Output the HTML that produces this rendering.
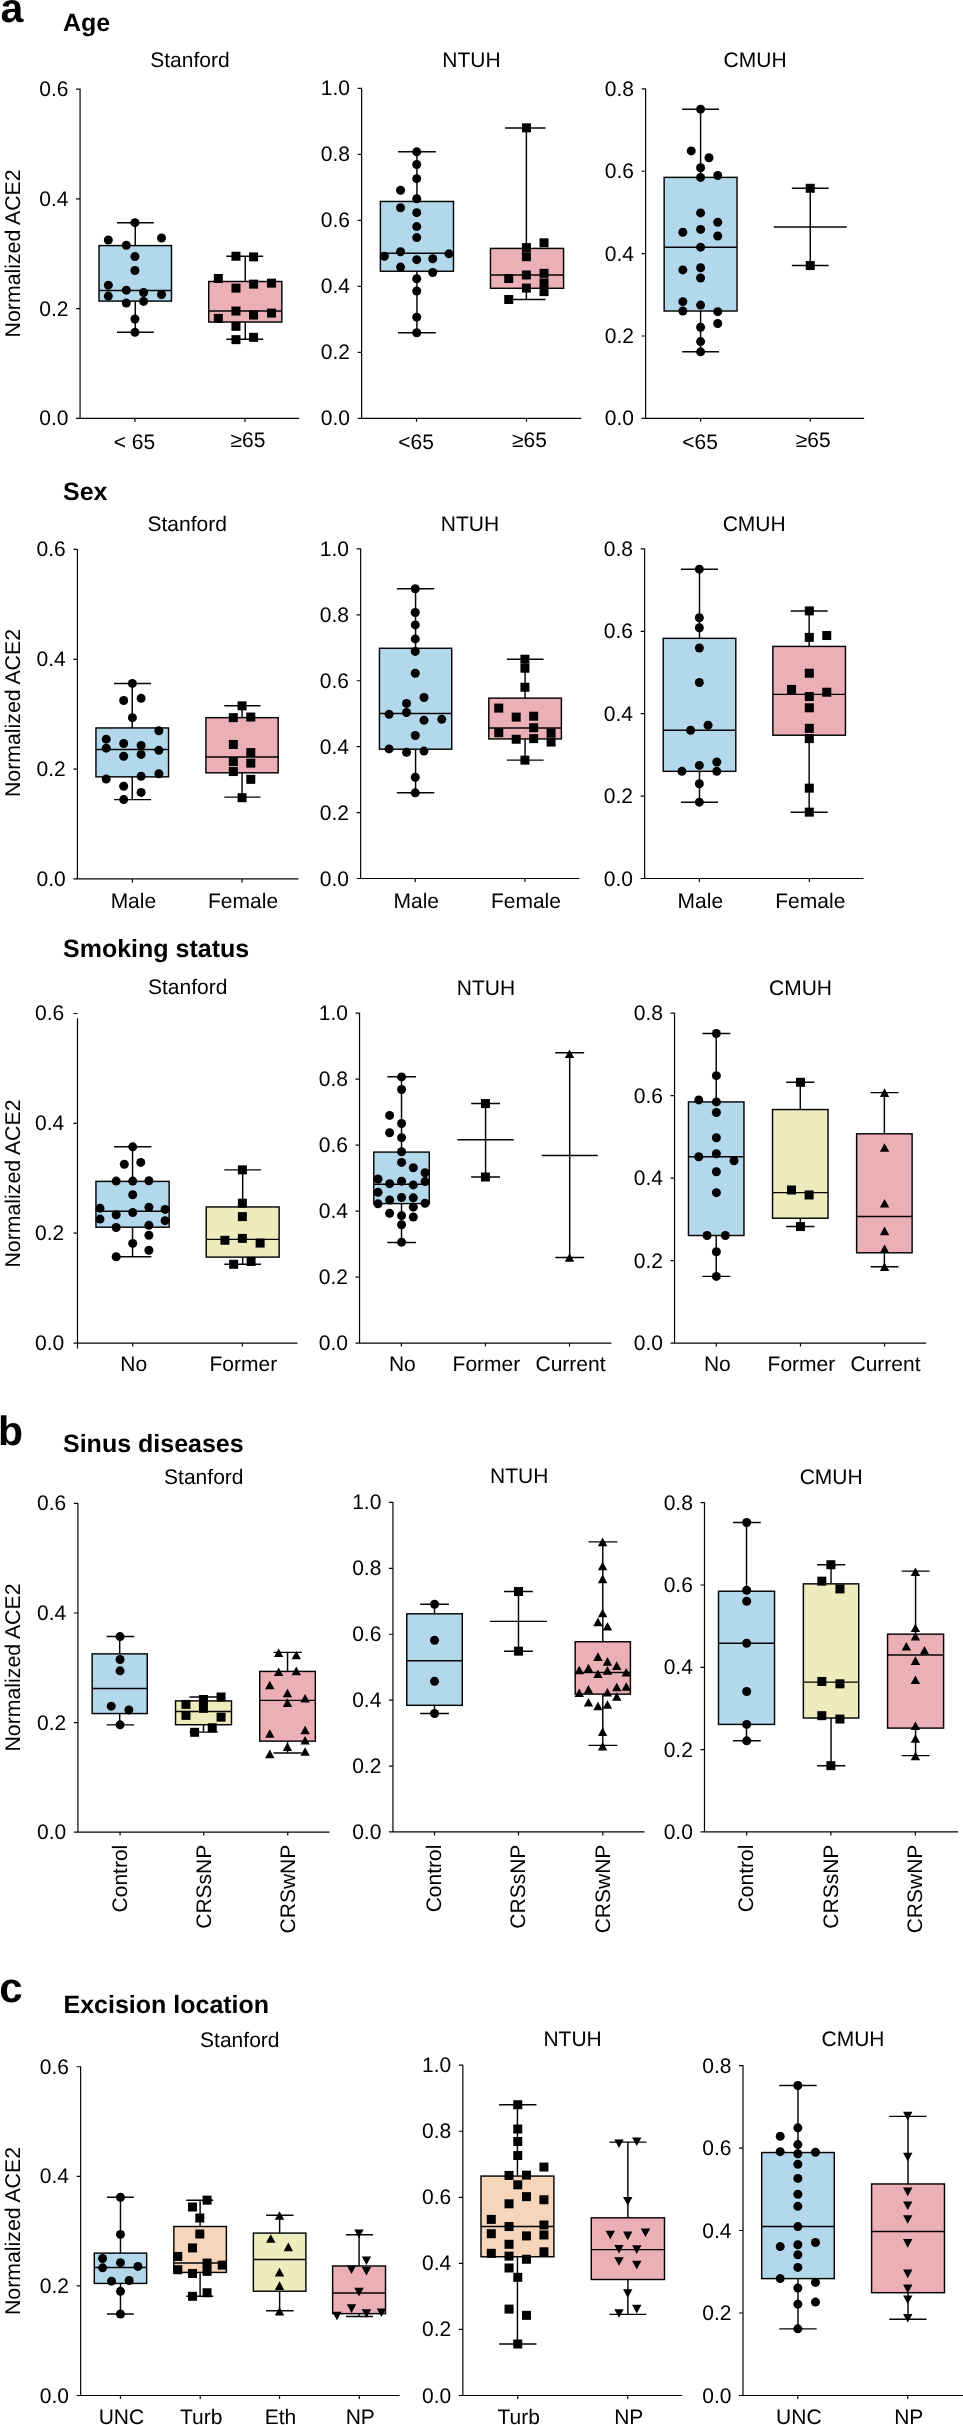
<!DOCTYPE html><html><head><meta charset="utf-8"><style>html,body{margin:0;padding:0;background:#fff}svg{display:block;will-change:transform;text-rendering:geometricPrecision}</style></head><body><svg width="963" height="2425" viewBox="0 0 963 2425" font-family="Liberation Sans, sans-serif">
<rect width="963" height="2425" fill="#fff"/>
<g>
<rect x="99.04" y="245.6" width="72.45" height="55.5" fill="#b4d8eb" stroke="#050505" stroke-width="1.45"/>
<path d="M135.26 222.67V245.6M135.26 301.1V332.34M116.98 222.67H153.87M116.98 332.34H153.87M99.04 290.46H171.49" stroke="#050505" stroke-width="1.45" fill="none"/>
<rect x="208.71" y="281.49" width="73.11" height="40.55" fill="#ebb0b6" stroke="#050505" stroke-width="1.45"/>
<path d="M245.26 256.23V281.49M245.26 322.03V339.32M226.32 256.23H263.21M226.32 339.32H263.21M208.71 311.07H281.82" stroke="#050505" stroke-width="1.45" fill="none"/>
</g>
<g fill="#000">
<circle cx="134.93" cy="222.67" r="4.5"/>
<circle cx="108.34" cy="239.95" r="4.5"/>
<circle cx="126.29" cy="245.26" r="4.5"/>
<circle cx="161.52" cy="237.95" r="4.5"/>
<circle cx="134.93" cy="256.56" r="4.5"/>
<circle cx="134.93" cy="270.52" r="4.5"/>
<circle cx="108.34" cy="285.14" r="4.5"/>
<circle cx="126.29" cy="290.13" r="4.5"/>
<circle cx="143.57" cy="292.46" r="4.5"/>
<circle cx="108.34" cy="296.11" r="4.5"/>
<circle cx="161.52" cy="294.45" r="4.5"/>
<circle cx="126.29" cy="303.09" r="4.5"/>
<circle cx="143.57" cy="301.43" r="4.5"/>
<circle cx="134.93" cy="319.04" r="4.5"/>
<circle cx="134.93" cy="332.34" r="4.5"/>
<rect x="231.46" y="251.73" width="9.0" height="9.0"/>
<rect x="249.07" y="252.4" width="9.0" height="9.0"/>
<rect x="213.84" y="274" width="9.0" height="9.0"/>
<rect x="231.46" y="283.64" width="9.0" height="9.0"/>
<rect x="249.07" y="279.65" width="9.0" height="9.0"/>
<rect x="267.02" y="278.65" width="9.0" height="9.0"/>
<rect x="231.46" y="306.57" width="9.0" height="9.0"/>
<rect x="249.07" y="310.55" width="9.0" height="9.0"/>
<rect x="267.02" y="308.56" width="9.0" height="9.0"/>
<rect x="213.84" y="313.88" width="9.0" height="9.0"/>
<rect x="231.46" y="321.85" width="9.0" height="9.0"/>
<rect x="231.46" y="335.15" width="9.0" height="9.0"/>
<rect x="249.07" y="332.82" width="9.0" height="9.0"/>
</g>
<path d="M80.07 88.57V418.4M79.47 418.4H299.1M76.07 418.4H80.07M76.07 308.62H80.07M76.07 198.84H80.07M76.07 89.07H80.07M134.93 418.4V421.9M244.93 418.4V421.9" stroke="#050505" stroke-width="1.2" fill="none"/>
<text x="68.47" y="425.4" font-size="21" text-anchor="end" >0.0</text>
<text x="68.47" y="315.62" font-size="21" text-anchor="end" >0.2</text>
<text x="68.47" y="205.84" font-size="21" text-anchor="end" >0.4</text>
<text x="68.47" y="96.07" font-size="21" text-anchor="end" >0.6</text>
<g>
<rect x="380.38" y="201.47" width="73.1" height="69.78" fill="#b4d8eb" stroke="#050505" stroke-width="1.45"/>
<path d="M416.94 151.84V201.47M416.94 271.26V332.73M398.04 151.84H435.84M398.04 332.73H435.84M380.38 253.19H453.49" stroke="#050505" stroke-width="1.45" fill="none"/>
<rect x="490.46" y="248.41" width="73.1" height="39.88" fill="#ebb0b6" stroke="#050505" stroke-width="1.45"/>
<path d="M526.39 127.9V248.41M526.39 288.29V299.5M504.99 127.9H545.49M504.99 299.5H545.49M490.46 274.99H563.56" stroke="#050505" stroke-width="1.45" fill="none"/>
</g>
<g fill="#000">
<rect x="521.98" y="123.35" width="9.0" height="9.0"/>
<circle cx="416.73" cy="151.84" r="4.5"/>
<circle cx="416.73" cy="164.51" r="4.5"/>
<circle cx="416.73" cy="178.63" r="4.5"/>
<circle cx="400.53" cy="190.26" r="4.5"/>
<circle cx="416.73" cy="198.77" r="4.5"/>
<circle cx="400.53" cy="207.71" r="4.5"/>
<circle cx="416.73" cy="212.69" r="4.5"/>
<circle cx="416.73" cy="226.6" r="4.5"/>
<circle cx="416.73" cy="237.61" r="4.5"/>
<circle cx="400.53" cy="251.73" r="4.5"/>
<circle cx="384.33" cy="256.3" r="4.5"/>
<circle cx="416.73" cy="259.63" r="4.5"/>
<circle cx="432.72" cy="258.8" r="4.5"/>
<circle cx="448.92" cy="253.81" r="4.5"/>
<circle cx="400.53" cy="267.1" r="4.5"/>
<circle cx="432.72" cy="272.5" r="4.5"/>
<circle cx="416.73" cy="278.73" r="4.5"/>
<circle cx="416.73" cy="290.99" r="4.5"/>
<circle cx="416.73" cy="317.15" r="4.5"/>
<circle cx="416.73" cy="332.73" r="4.5"/>
<rect x="521.89" y="243.08" width="9.0" height="9.0"/>
<rect x="521.89" y="252.22" width="9.0" height="9.0"/>
<rect x="539.54" y="238.3" width="9.0" height="9.0"/>
<rect x="504.23" y="274.03" width="9.0" height="9.0"/>
<rect x="521.89" y="270.49" width="9.0" height="9.0"/>
<rect x="539.54" y="268.83" width="9.0" height="9.0"/>
<rect x="539.54" y="278.39" width="9.0" height="9.0"/>
<rect x="539.54" y="287.11" width="9.0" height="9.0"/>
<rect x="521.89" y="283.58" width="9.0" height="9.0"/>
<rect x="504.23" y="295" width="9.0" height="9.0"/>
</g>
<path d="M361.64 87.79V418.36M361.04 418.36H581.31M357.64 418.36H361.64M357.64 352.35H361.64M357.64 286.33H361.64M357.64 220.32H361.64M357.64 154.3H361.64M357.64 88.29H361.64M416.51 418.36V421.86M526.48 418.36V421.86" stroke="#050505" stroke-width="1.2" fill="none"/>
<text x="350.04" y="425.36" font-size="21" text-anchor="end" >0.0</text>
<text x="350.04" y="359.35" font-size="21" text-anchor="end" >0.2</text>
<text x="350.04" y="293.33" font-size="21" text-anchor="end" >0.4</text>
<text x="350.04" y="227.32" font-size="21" text-anchor="end" >0.6</text>
<text x="350.04" y="161.3" font-size="21" text-anchor="end" >0.8</text>
<text x="350.04" y="95.29" font-size="21" text-anchor="end" >1.0</text>
<g>
<rect x="664.14" y="177.38" width="72.9" height="133.64" fill="#b4d8eb" stroke="#050505" stroke-width="1.45"/>
<path d="M700.59 109.16V177.38M700.59 311.03V351.84M682.21 109.16H718.97M682.21 351.84H718.97M664.14 247.17H737.04" stroke="#050505" stroke-width="1.45" fill="none"/>
<path d="M810.25 188.29V265.55M791.87 188.29H828.63M791.87 265.55H828.63M773.8 226.92H846.7" stroke="#050505" stroke-width="1.45" fill="none"/>
</g>
<g fill="#000">
<circle cx="700.59" cy="109.16" r="4.5"/>
<circle cx="691.25" cy="150.9" r="4.5"/>
<circle cx="709" cy="157.76" r="4.5"/>
<circle cx="700.59" cy="167.73" r="4.5"/>
<circle cx="700.59" cy="177.38" r="4.5"/>
<circle cx="717.73" cy="175.51" r="4.5"/>
<circle cx="700.59" cy="212.9" r="4.5"/>
<circle cx="717.73" cy="222.24" r="4.5"/>
<circle cx="682.83" cy="232.21" r="4.5"/>
<circle cx="700.59" cy="229.41" r="4.5"/>
<circle cx="717.73" cy="235.95" r="4.5"/>
<circle cx="700.59" cy="247.17" r="4.5"/>
<circle cx="682.83" cy="269.91" r="4.5"/>
<circle cx="700.59" cy="267.73" r="4.5"/>
<circle cx="700.59" cy="278.01" r="4.5"/>
<circle cx="682.83" cy="301.68" r="4.5"/>
<circle cx="682.83" cy="311.03" r="4.5"/>
<circle cx="700.59" cy="305.11" r="4.5"/>
<circle cx="717.73" cy="311.65" r="4.5"/>
<circle cx="717.73" cy="323.49" r="4.5"/>
<circle cx="700.59" cy="327.23" r="4.5"/>
<circle cx="700.59" cy="341.56" r="4.5"/>
<circle cx="700.59" cy="351.84" r="4.5"/>
<rect x="805.75" y="183.79" width="9.0" height="9.0"/>
<rect x="805.75" y="261.05" width="9.0" height="9.0"/>
</g>
<path d="M645.64 88.41V418.36M645.04 418.36H864.14M641.64 418.36H645.64M641.64 336H645.64M641.64 253.63H645.64M641.64 171.27H645.64M641.64 88.91H645.64M700.59 418.36V421.86M810.25 418.36V421.86" stroke="#050505" stroke-width="1.2" fill="none"/>
<text x="634.04" y="425.36" font-size="21" text-anchor="end" >0.0</text>
<text x="634.04" y="343" font-size="21" text-anchor="end" >0.2</text>
<text x="634.04" y="260.63" font-size="21" text-anchor="end" >0.4</text>
<text x="634.04" y="178.27" font-size="21" text-anchor="end" >0.6</text>
<text x="634.04" y="95.91" font-size="21" text-anchor="end" >0.8</text>
<g>
<rect x="95.95" y="727.94" width="72.59" height="48.91" fill="#b4d8eb" stroke="#050505" stroke-width="1.45"/>
<path d="M132.24 683.4V727.94M132.24 776.85V799.6M114.02 683.4H151.09M114.02 799.6H151.09M95.95 749.44H168.54" stroke="#050505" stroke-width="1.45" fill="none"/>
<rect x="205.92" y="717.66" width="72.27" height="55.14" fill="#ebb0b6" stroke="#050505" stroke-width="1.45"/>
<path d="M242.06 705.83V717.66M242.06 772.8V797.1M224.3 705.83H260.44M224.3 797.1H260.44M205.92 756.92H278.19" stroke="#050505" stroke-width="1.45" fill="none"/>
</g>
<g fill="#000">
<circle cx="132.4" cy="683.4" r="4.5"/>
<circle cx="123.68" cy="700.53" r="4.5"/>
<circle cx="141.12" cy="698.35" r="4.5"/>
<circle cx="132.4" cy="717.66" r="4.5"/>
<circle cx="106.23" cy="739.16" r="4.5"/>
<circle cx="123.68" cy="743.52" r="4.5"/>
<circle cx="141.12" cy="745.39" r="4.5"/>
<circle cx="158.88" cy="730.75" r="4.5"/>
<circle cx="106.23" cy="748.19" r="4.5"/>
<circle cx="123.68" cy="756.29" r="4.5"/>
<circle cx="141.12" cy="754.42" r="4.5"/>
<circle cx="158.88" cy="750.37" r="4.5"/>
<circle cx="106.23" cy="779.03" r="4.5"/>
<circle cx="141.12" cy="776.23" r="4.5"/>
<circle cx="158.88" cy="773.74" r="4.5"/>
<circle cx="123.68" cy="786.2" r="4.5"/>
<circle cx="141.12" cy="792.43" r="4.5"/>
<circle cx="123.68" cy="799.6" r="4.5"/>
<rect x="237.56" y="701.33" width="9.0" height="9.0"/>
<rect x="228.83" y="713.16" width="9.0" height="9.0"/>
<rect x="246.28" y="712.54" width="9.0" height="9.0"/>
<rect x="228.83" y="739.95" width="9.0" height="9.0"/>
<rect x="246.28" y="748.05" width="9.0" height="9.0"/>
<rect x="228.83" y="757.09" width="9.0" height="9.0"/>
<rect x="246.28" y="758.65" width="9.0" height="9.0"/>
<rect x="228.83" y="767.06" width="9.0" height="9.0"/>
<rect x="246.28" y="774.85" width="9.0" height="9.0"/>
<rect x="237.56" y="793.23" width="9.0" height="9.0"/>
</g>
<path d="M77.42 548.94V878.97M76.82 878.97H298.44M73.42 878.97H77.42M73.42 769.13H77.42M73.42 659.28H77.42M73.42 549.44H77.42M132.4 878.97V882.47M242.06 878.97V882.47" stroke="#050505" stroke-width="1.2" fill="none"/>
<text x="65.82" y="885.97" font-size="21" text-anchor="end" >0.0</text>
<text x="65.82" y="776.13" font-size="21" text-anchor="end" >0.2</text>
<text x="65.82" y="666.28" font-size="21" text-anchor="end" >0.4</text>
<text x="65.82" y="556.44" font-size="21" text-anchor="end" >0.6</text>
<g>
<rect x="379.44" y="648.29" width="72.27" height="100.93" fill="#b4d8eb" stroke="#050505" stroke-width="1.45"/>
<path d="M415.58 588.79V648.29M415.58 749.22V792.83M396.88 588.79H434.27M396.88 792.83H434.27M379.44 713.4H451.71" stroke="#050505" stroke-width="1.45" fill="none"/>
<rect x="488.79" y="698.13" width="72.59" height="40.81" fill="#ebb0b6" stroke="#050505" stroke-width="1.45"/>
<path d="M525.08 659.19V698.13M525.08 738.94V760.12M506.85 659.19H543.61M506.85 760.12H543.61M488.79 728.04H561.37" stroke="#050505" stroke-width="1.45" fill="none"/>
</g>
<g fill="#000">
<circle cx="415.26" cy="588.79" r="4.5"/>
<circle cx="415.26" cy="612.46" r="4.5"/>
<circle cx="415.26" cy="624.92" r="4.5"/>
<circle cx="415.26" cy="638.94" r="4.5"/>
<circle cx="415.26" cy="651.4" r="4.5"/>
<circle cx="415.26" cy="673.21" r="4.5"/>
<circle cx="406.54" cy="703.43" r="4.5"/>
<circle cx="423.99" cy="697.51" r="4.5"/>
<circle cx="389.1" cy="714.33" r="4.5"/>
<circle cx="406.54" cy="712.46" r="4.5"/>
<circle cx="423.99" cy="720.25" r="4.5"/>
<circle cx="441.74" cy="719.31" r="4.5"/>
<circle cx="415.26" cy="735.51" r="4.5"/>
<circle cx="389.1" cy="748.91" r="4.5"/>
<circle cx="406.54" cy="752.34" r="4.5"/>
<circle cx="423.99" cy="751.09" r="4.5"/>
<circle cx="415.26" cy="777.26" r="4.5"/>
<circle cx="415.26" cy="792.83" r="4.5"/>
<rect x="520.42" y="654.69" width="9.0" height="9.0"/>
<rect x="520.42" y="663.72" width="9.0" height="9.0"/>
<rect x="520.42" y="682.73" width="9.0" height="9.0"/>
<rect x="494.25" y="703.6" width="9.0" height="9.0"/>
<rect x="511.7" y="712.63" width="9.0" height="9.0"/>
<rect x="529.14" y="711.7" width="9.0" height="9.0"/>
<rect x="494.25" y="728.21" width="9.0" height="9.0"/>
<rect x="529.14" y="723.23" width="9.0" height="9.0"/>
<rect x="511.7" y="734.75" width="9.0" height="9.0"/>
<rect x="529.14" y="734.13" width="9.0" height="9.0"/>
<rect x="546.59" y="728.52" width="9.0" height="9.0"/>
<rect x="546.59" y="737.56" width="9.0" height="9.0"/>
<rect x="520.42" y="755.62" width="9.0" height="9.0"/>
</g>
<path d="M360.64 548.41V878.5M360.04 878.5H579.44M356.64 878.5H360.64M356.64 812.58H360.64M356.64 746.66H360.64M356.64 680.75H360.64M356.64 614.83H360.64M356.64 548.91H360.64M415.26 878.5V882M524.92 878.5V882" stroke="#050505" stroke-width="1.2" fill="none"/>
<text x="349.04" y="885.5" font-size="21" text-anchor="end" >0.0</text>
<text x="349.04" y="819.58" font-size="21" text-anchor="end" >0.2</text>
<text x="349.04" y="753.66" font-size="21" text-anchor="end" >0.4</text>
<text x="349.04" y="687.75" font-size="21" text-anchor="end" >0.6</text>
<text x="349.04" y="621.83" font-size="21" text-anchor="end" >0.8</text>
<text x="349.04" y="555.91" font-size="21" text-anchor="end" >1.0</text>
<g>
<rect x="663.21" y="638.32" width="72.59" height="133.02" fill="#b4d8eb" stroke="#050505" stroke-width="1.45"/>
<path d="M699.5 569.16V638.32M699.5 771.34V802.18M680.97 569.16H718.04M680.97 802.18H718.04M663.21 730.22H735.79" stroke="#050505" stroke-width="1.45" fill="none"/>
<rect x="772.87" y="646.42" width="72.59" height="88.79" fill="#ebb0b6" stroke="#050505" stroke-width="1.45"/>
<path d="M809.16 610.9V646.42M809.16 735.2V812.15M790.62 610.9H827.69M790.62 812.15H827.69M772.87 694.39H845.45" stroke="#050505" stroke-width="1.45" fill="none"/>
</g>
<g fill="#000">
<circle cx="699.35" cy="569.16" r="4.5"/>
<circle cx="699.35" cy="617.76" r="4.5"/>
<circle cx="699.35" cy="627.73" r="4.5"/>
<circle cx="699.35" cy="647.98" r="4.5"/>
<circle cx="699.35" cy="682.55" r="4.5"/>
<circle cx="690.62" cy="730.22" r="4.5"/>
<circle cx="708.07" cy="725.23" r="4.5"/>
<circle cx="681.9" cy="771.34" r="4.5"/>
<circle cx="699.35" cy="765.42" r="4.5"/>
<circle cx="716.79" cy="761.99" r="4.5"/>
<circle cx="716.79" cy="771.34" r="4.5"/>
<circle cx="699.35" cy="783.8" r="4.5"/>
<circle cx="699.35" cy="802.18" r="4.5"/>
<rect x="804.81" y="606.4" width="9.0" height="9.0"/>
<rect x="804.81" y="632.88" width="9.0" height="9.0"/>
<rect x="822.26" y="631.01" width="9.0" height="9.0"/>
<rect x="804.81" y="668.71" width="9.0" height="9.0"/>
<rect x="787.06" y="684.91" width="9.0" height="9.0"/>
<rect x="822.26" y="687.71" width="9.0" height="9.0"/>
<rect x="804.81" y="692.07" width="9.0" height="9.0"/>
<rect x="804.81" y="703.29" width="9.0" height="9.0"/>
<rect x="804.81" y="723.85" width="9.0" height="9.0"/>
<rect x="804.81" y="734.13" width="9.0" height="9.0"/>
<rect x="804.81" y="783.66" width="9.0" height="9.0"/>
<rect x="804.81" y="807.65" width="9.0" height="9.0"/>
</g>
<path d="M644.64 548.41V878.5M644.04 878.5H863.52M640.64 878.5H644.64M640.64 796.1H644.64M640.64 713.7H644.64M640.64 631.31H644.64M640.64 548.91H644.64M699.35 878.5V882M809.31 878.5V882" stroke="#050505" stroke-width="1.2" fill="none"/>
<text x="633.04" y="885.5" font-size="21" text-anchor="end" >0.0</text>
<text x="633.04" y="803.1" font-size="21" text-anchor="end" >0.2</text>
<text x="633.04" y="720.7" font-size="21" text-anchor="end" >0.4</text>
<text x="633.04" y="638.31" font-size="21" text-anchor="end" >0.6</text>
<text x="633.04" y="555.91" font-size="21" text-anchor="end" >0.8</text>
<g>
<rect x="95.95" y="1181.4" width="73.21" height="45.79" fill="#b4d8eb" stroke="#050505" stroke-width="1.45"/>
<path d="M132.55 1146.82V1181.4M132.55 1227.2V1256.79M114.02 1146.82H151.4M114.02 1256.79H151.4M95.95 1211.31H169.16" stroke="#050505" stroke-width="1.45" fill="none"/>
<rect x="206.23" y="1206.95" width="72.9" height="50.16" fill="#eeebbd" stroke="#050505" stroke-width="1.45"/>
<path d="M242.68 1169.88V1206.95M242.68 1257.1V1264.27M224.3 1169.88H261.06M224.3 1264.27H261.06M206.23 1239.35H279.13" stroke="#050505" stroke-width="1.45" fill="none"/>
</g>
<g fill="#000">
<circle cx="132.71" cy="1146.82" r="4.5"/>
<circle cx="124.3" cy="1164.27" r="4.5"/>
<circle cx="140.81" cy="1162.4" r="4.5"/>
<circle cx="116.2" cy="1181.09" r="4.5"/>
<circle cx="132.71" cy="1181.09" r="4.5"/>
<circle cx="148.91" cy="1180.78" r="4.5"/>
<circle cx="132.71" cy="1194.8" r="4.5"/>
<circle cx="100" cy="1208.19" r="4.5"/>
<circle cx="148.91" cy="1207.26" r="4.5"/>
<circle cx="165.11" cy="1209.44" r="4.5"/>
<circle cx="116.2" cy="1214.74" r="4.5"/>
<circle cx="132.71" cy="1212.55" r="4.5"/>
<circle cx="100" cy="1219.1" r="4.5"/>
<circle cx="148.91" cy="1225.33" r="4.5"/>
<circle cx="165.11" cy="1220.65" r="4.5"/>
<circle cx="116.2" cy="1227.51" r="4.5"/>
<circle cx="148.91" cy="1235.3" r="4.5"/>
<circle cx="132.71" cy="1243.4" r="4.5"/>
<circle cx="148.91" cy="1250.25" r="4.5"/>
<circle cx="116.2" cy="1256.79" r="4.5"/>
<rect x="237.87" y="1165.38" width="9.0" height="9.0"/>
<rect x="237.87" y="1198.71" width="9.0" height="9.0"/>
<rect x="237.87" y="1212.1" width="9.0" height="9.0"/>
<rect x="220.42" y="1235.78" width="9.0" height="9.0"/>
<rect x="237.87" y="1233.91" width="9.0" height="9.0"/>
<rect x="255.62" y="1238.58" width="9.0" height="9.0"/>
<rect x="229.14" y="1259.77" width="9.0" height="9.0"/>
<rect x="246.59" y="1256.96" width="9.0" height="9.0"/>
</g>
<path d="M77.48 1018.29V1348.53M76.88 1343.03H297.51M73.48 1343.03H77.48M73.48 1233.18H77.48M73.48 1123.34H77.48M73.48 1013.49H77.48M132.71 1343.03V1346.53M242.37 1343.03V1346.53" stroke="#050505" stroke-width="1.2" fill="none"/>
<text x="64.28" y="1350.03" font-size="21" text-anchor="end" >0.0</text>
<text x="64.28" y="1240.18" font-size="21" text-anchor="end" >0.2</text>
<text x="64.28" y="1130.34" font-size="21" text-anchor="end" >0.4</text>
<text x="64.28" y="1020.49" font-size="21" text-anchor="end" >0.6</text>
<g>
<rect x="373.78" y="1152.09" width="55.5" height="51.51" fill="#b4d8eb" stroke="#050505" stroke-width="1.45"/>
<path d="M401.53 1076.65V1152.09M401.53 1203.6V1242.49M387.4 1076.65H415.99M387.4 1242.49H415.99M373.78 1184.33H429.28" stroke="#050505" stroke-width="1.45" fill="none"/>
<path d="M485.61 1103.57V1177.02M471.15 1103.57H500.07M471.15 1177.02H500.07M457.53 1139.79H513.69" stroke="#050505" stroke-width="1.45" fill="none"/>
<path d="M569.69 1052.72V1257.44M555.23 1052.72H584.15M555.23 1257.44H584.15M541.61 1155.41H597.77" stroke="#050505" stroke-width="1.45" fill="none"/>
</g>
<g fill="#000">
<rect x="480.94" y="1099.07" width="9.0" height="9.0"/>
<rect x="480.94" y="1172.52" width="9.0" height="9.0"/>
<path d="M569.52 1049.42L574.22 1058.02L564.82 1058.02Z"/>
<path d="M569.52 1253.14L574.22 1261.74L564.82 1261.74Z"/>
<circle cx="401.57" cy="1076.9" r="4.5"/>
<circle cx="401.57" cy="1089.51" r="4.5"/>
<circle cx="389.62" cy="1115.4" r="4.5"/>
<circle cx="401.57" cy="1123.48" r="4.5"/>
<circle cx="389.62" cy="1132.79" r="4.5"/>
<circle cx="401.57" cy="1137.66" r="4.5"/>
<circle cx="401.57" cy="1151.76" r="4.5"/>
<circle cx="401.57" cy="1162.39" r="4.5"/>
<circle cx="413.28" cy="1167.75" r="4.5"/>
<circle cx="425.07" cy="1172.78" r="4.5"/>
<circle cx="378" cy="1178.96" r="4.5"/>
<circle cx="389.62" cy="1183.66" r="4.5"/>
<circle cx="401.57" cy="1181.19" r="4.5"/>
<circle cx="413.28" cy="1184.9" r="4.5"/>
<circle cx="425.07" cy="1181.6" r="4.5"/>
<circle cx="378" cy="1192.32" r="4.5"/>
<circle cx="389.62" cy="1199.98" r="4.5"/>
<circle cx="401.57" cy="1197.51" r="4.5"/>
<circle cx="413.28" cy="1197.84" r="4.5"/>
<circle cx="378" cy="1203.86" r="4.5"/>
<circle cx="425.07" cy="1203.2" r="4.5"/>
<circle cx="413.28" cy="1207.16" r="4.5"/>
<circle cx="389.62" cy="1213.34" r="4.5"/>
<circle cx="401.57" cy="1215.65" r="4.5"/>
<circle cx="413.28" cy="1217.05" r="4.5"/>
<circle cx="401.57" cy="1224.72" r="4.5"/>
<circle cx="401.57" cy="1242.19" r="4.5"/>
</g>
<path d="M359.55 1012.67V1343.03M358.95 1343.03H611.4M355.55 1343.03H359.55M355.55 1277.06H359.55M355.55 1211.09H359.55M355.55 1145.12H359.55M355.55 1079.15H359.55M355.55 1013.17H359.55M401.36 1343.03V1346.53M485.44 1343.03V1346.53M569.52 1343.03V1346.53" stroke="#050505" stroke-width="1.2" fill="none"/>
<text x="347.95" y="1350.03" font-size="21" text-anchor="end" >0.0</text>
<text x="347.95" y="1284.06" font-size="21" text-anchor="end" >0.2</text>
<text x="347.95" y="1218.09" font-size="21" text-anchor="end" >0.4</text>
<text x="347.95" y="1152.12" font-size="21" text-anchor="end" >0.6</text>
<text x="347.95" y="1086.15" font-size="21" text-anchor="end" >0.8</text>
<text x="347.95" y="1020.17" font-size="21" text-anchor="end" >1.0</text>
<g>
<rect x="688.46" y="1101.91" width="55.5" height="133.6" fill="#b4d8eb" stroke="#050505" stroke-width="1.45"/>
<path d="M716.21 1033.45V1101.91M716.21 1235.51V1276.38M702.42 1033.45H730.34M702.42 1276.38H730.34M688.46 1156.74H743.96" stroke="#050505" stroke-width="1.45" fill="none"/>
<rect x="772.54" y="1109.55" width="55.5" height="108.67" fill="#eeebbd" stroke="#050505" stroke-width="1.45"/>
<path d="M800.29 1082.3V1109.55M800.29 1218.23V1226.53M786.17 1082.3H814.42M786.17 1226.53H814.42M772.54 1192.64H828.04" stroke="#050505" stroke-width="1.45" fill="none"/>
<rect x="856.62" y="1133.81" width="55.5" height="118.98" fill="#ebb0b6" stroke="#050505" stroke-width="1.45"/>
<path d="M884.37 1092.6V1133.81M884.37 1252.79V1266.75M870.58 1092.6H898.5M870.58 1266.75H898.5M856.62 1216.56H912.12" stroke="#050505" stroke-width="1.45" fill="none"/>
</g>
<g fill="#000">
<circle cx="716.38" cy="1033.45" r="4.5"/>
<circle cx="716.38" cy="1075.65" r="4.5"/>
<circle cx="698.76" cy="1099.91" r="4.5"/>
<circle cx="716.38" cy="1101.91" r="4.5"/>
<circle cx="716.38" cy="1112.54" r="4.5"/>
<circle cx="716.38" cy="1137.8" r="4.5"/>
<circle cx="698.76" cy="1156.74" r="4.5"/>
<circle cx="716.38" cy="1153.75" r="4.5"/>
<circle cx="733.99" cy="1160.73" r="4.5"/>
<circle cx="716.38" cy="1171.7" r="4.5"/>
<circle cx="716.38" cy="1192.64" r="4.5"/>
<circle cx="707.07" cy="1235.51" r="4.5"/>
<circle cx="725.35" cy="1235.51" r="4.5"/>
<circle cx="716.38" cy="1251.79" r="4.5"/>
<circle cx="716.38" cy="1276.38" r="4.5"/>
<rect x="795.96" y="1077.8" width="9.0" height="9.0"/>
<rect x="786.99" y="1185.48" width="9.0" height="9.0"/>
<rect x="804.6" y="1190.46" width="9.0" height="9.0"/>
<rect x="795.96" y="1222.03" width="9.0" height="9.0"/>
<path d="M884.54 1088.3L889.24 1096.9L879.84 1096.9Z"/>
<path d="M884.54 1143.14L889.24 1151.74L879.84 1151.74Z"/>
<path d="M884.54 1198.97L889.24 1207.57L879.84 1207.57Z"/>
<path d="M884.54 1226.55L889.24 1235.15L879.84 1235.15Z"/>
<path d="M884.54 1244.5L889.24 1253.1L879.84 1253.1Z"/>
<path d="M884.54 1262.45L889.24 1271.05L879.84 1271.05Z"/>
</g>
<path d="M674.55 1012.67V1343.03M673.95 1343.03H926.08M670.55 1343.03H674.55M670.55 1260.57H674.55M670.55 1178.1H674.55M670.55 1095.64H674.55M670.55 1013.17H674.55M716.38 1343.03V1346.53M800.46 1343.03V1346.53M884.54 1343.03V1346.53" stroke="#050505" stroke-width="1.2" fill="none"/>
<text x="662.95" y="1350.03" font-size="21" text-anchor="end" >0.0</text>
<text x="662.95" y="1267.57" font-size="21" text-anchor="end" >0.2</text>
<text x="662.95" y="1185.1" font-size="21" text-anchor="end" >0.4</text>
<text x="662.95" y="1102.64" font-size="21" text-anchor="end" >0.6</text>
<text x="662.95" y="1020.17" font-size="21" text-anchor="end" >0.8</text>
<g>
<rect x="92.16" y="1653.88" width="55.08" height="59.68" fill="#b4d8eb" stroke="#050505" stroke-width="1.45"/>
<path d="M119.7 1636.58V1653.88M119.7 1713.56V1724.86M106.64 1636.58H134.18M106.64 1724.86H134.18M92.16 1688.49H147.25" stroke="#050505" stroke-width="1.45" fill="none"/>
<rect x="175.53" y="1700.9" width="55.96" height="23.83" fill="#eeebbd" stroke="#050505" stroke-width="1.45"/>
<path d="M203.51 1697.02V1700.9M203.51 1724.73V1732.14M189.48 1697.02H217.72M189.48 1732.14H217.72M175.53 1711.49H231.49" stroke="#050505" stroke-width="1.45" fill="none"/>
<rect x="259.74" y="1671.42" width="55.6" height="69.73" fill="#ebb0b6" stroke="#050505" stroke-width="1.45"/>
<path d="M287.54 1652.36V1671.42M287.54 1741.15V1752.97M273.5 1652.36H301.75M273.5 1752.97H301.75M259.74 1700.37H315.34" stroke="#050505" stroke-width="1.45" fill="none"/>
</g>
<g fill="#000">
<circle cx="120.06" cy="1636.58" r="4.5"/>
<circle cx="120.06" cy="1659.53" r="4.5"/>
<circle cx="120.06" cy="1670.83" r="4.5"/>
<circle cx="111.23" cy="1706.14" r="4.5"/>
<circle cx="128.88" cy="1710.03" r="4.5"/>
<circle cx="120.06" cy="1724.86" r="4.5"/>
<rect x="181.45" y="1699.93" width="9.0" height="9.0"/>
<rect x="198.92" y="1694.99" width="9.0" height="9.0"/>
<rect x="216.58" y="1692.52" width="9.0" height="9.0"/>
<rect x="198.92" y="1703.81" width="9.0" height="9.0"/>
<rect x="181.45" y="1710.88" width="9.0" height="9.0"/>
<rect x="216.58" y="1712.64" width="9.0" height="9.0"/>
<rect x="190.1" y="1727.82" width="9.0" height="9.0"/>
<rect x="207.75" y="1723.23" width="9.0" height="9.0"/>
<path d="M278.62 1648.41L283.32 1657.01L273.92 1657.01Z"/>
<path d="M296.28 1650.7L300.98 1659.3L291.58 1659.3Z"/>
<path d="M278.62 1667.47L283.32 1676.07L273.92 1676.07Z"/>
<path d="M296.28 1666.59L300.98 1675.19L291.58 1675.19Z"/>
<path d="M269.8 1680.71L274.5 1689.31L265.1 1689.31Z"/>
<path d="M287.45 1688.66L292.15 1697.26L282.75 1697.26Z"/>
<path d="M305.1 1693.95L309.8 1702.55L300.4 1702.55Z"/>
<path d="M287.45 1698.37L292.15 1706.97L282.75 1706.97Z"/>
<path d="M269.8 1729.26L274.5 1737.86L265.1 1737.86Z"/>
<path d="M305.1 1725.73L309.8 1734.33L300.4 1734.33Z"/>
<path d="M305.1 1735.96L309.8 1744.56L300.4 1744.56Z"/>
<path d="M287.45 1742.5L292.15 1751.1L282.75 1751.1Z"/>
<path d="M269.8 1749.56L274.5 1758.16L265.1 1758.16Z"/>
<path d="M305.1 1747.26L309.8 1755.86L300.4 1755.86Z"/>
</g>
<path d="M77.89 1502.96V1832.06M77.29 1832.06H329.45M73.89 1832.06H77.89M73.89 1722.53H77.89M73.89 1612.99H77.89M73.89 1503.46H77.89M120.06 1832.06V1835.56M203.74 1832.06V1835.56M287.78 1832.06V1835.56" stroke="#050505" stroke-width="1.2" fill="none"/>
<text x="66.29" y="1839.06" font-size="21" text-anchor="end" >0.0</text>
<text x="66.29" y="1729.53" font-size="21" text-anchor="end" >0.2</text>
<text x="66.29" y="1619.99" font-size="21" text-anchor="end" >0.4</text>
<text x="66.29" y="1510.46" font-size="21" text-anchor="end" >0.6</text>
<g>
<rect x="406.76" y="1613.81" width="55.52" height="91.5" fill="#b4d8eb" stroke="#050505" stroke-width="1.45"/>
<path d="M434.52 1604.22V1613.81M434.52 1705.31V1713.54M420.13 1604.22H448.92M420.13 1713.54H448.92M406.76 1660.76H462.28" stroke="#050505" stroke-width="1.45" fill="none"/>
<path d="M518.49 1591.54V1651.17M504.09 1591.54H532.88M504.09 1651.17H532.88M490.04 1621.35H546.93" stroke="#050505" stroke-width="1.45" fill="none"/>
<rect x="575.18" y="1641.76" width="55.22" height="52.37" fill="#ebb0b6" stroke="#050505" stroke-width="1.45"/>
<path d="M602.79 1541.86V1641.76M602.79 1694.14V1745.37M588.46 1541.86H617.4M588.46 1745.37H617.4M575.18 1672.5H630.4" stroke="#050505" stroke-width="1.45" fill="none"/>
</g>
<g fill="#000">
<circle cx="434.52" cy="1604.22" r="4.5"/>
<circle cx="434.52" cy="1640.2" r="4.5"/>
<circle cx="434.52" cy="1681.32" r="4.5"/>
<circle cx="434.52" cy="1713.54" r="4.5"/>
<rect x="513.99" y="1587.04" width="9.0" height="9.0"/>
<rect x="513.99" y="1646.67" width="9.0" height="9.0"/>
<path d="M602.6 1537.56L607.3 1546.16L597.9 1546.16Z"/>
<path d="M602.6 1561.75L607.3 1570.35L597.9 1570.35Z"/>
<path d="M602.6 1574.56L607.3 1583.16L597.9 1583.16Z"/>
<path d="M602.6 1608.72L607.3 1617.32L597.9 1617.32Z"/>
<path d="M597.95 1617.54L602.65 1626.14L593.25 1626.14Z"/>
<path d="M607.44 1622L612.14 1630.6L602.74 1630.6Z"/>
<path d="M597.95 1652.36L602.65 1660.96L593.25 1660.96Z"/>
<path d="M607.44 1657.1L612.14 1665.7L602.74 1665.7Z"/>
<path d="M616.74 1661.37L621.44 1669.97L612.04 1669.97Z"/>
<path d="M579.26 1665.64L583.96 1674.24L574.56 1674.24Z"/>
<path d="M588.46 1663.75L593.16 1672.35L583.76 1672.35Z"/>
<path d="M597.95 1669.44L602.65 1678.04L593.25 1678.04Z"/>
<path d="M607.44 1666.12L612.14 1674.72L602.74 1674.72Z"/>
<path d="M626.22 1668.01L630.92 1676.61L621.52 1676.61Z"/>
<path d="M579.26 1688.41L583.96 1697.01L574.56 1697.01Z"/>
<path d="M588.46 1685.09L593.16 1693.69L583.76 1693.69Z"/>
<path d="M607.44 1687.94L612.14 1696.54L602.74 1696.54Z"/>
<path d="M616.74 1682.72L621.44 1691.32L612.04 1691.32Z"/>
<path d="M626.22 1682.25L630.92 1690.85L621.52 1690.85Z"/>
<path d="M616.74 1692.21L621.44 1700.81L612.04 1700.81Z"/>
<path d="M588.46 1697.9L593.16 1706.5L583.76 1706.5Z"/>
<path d="M597.95 1701.7L602.65 1710.3L593.25 1710.3Z"/>
<path d="M607.44 1700.27L612.14 1708.87L602.74 1708.87Z"/>
<path d="M602.6 1727.31L607.3 1735.91L597.9 1735.91Z"/>
<path d="M602.6 1742.02L607.3 1750.62L597.9 1750.62Z"/>
</g>
<path d="M392.95 1501.93V1831.93M392.35 1831.93H644.6M388.95 1831.93H392.95M388.95 1766.03H392.95M388.95 1700.13H392.95M388.95 1634.23H392.95M388.95 1568.33H392.95M388.95 1502.43H392.95M434.52 1831.93V1835.43M518.49 1831.93V1835.43M602.79 1831.93V1835.43" stroke="#050505" stroke-width="1.2" fill="none"/>
<text x="381.35" y="1838.93" font-size="21" text-anchor="end" >0.0</text>
<text x="381.35" y="1773.03" font-size="21" text-anchor="end" >0.2</text>
<text x="381.35" y="1707.13" font-size="21" text-anchor="end" >0.4</text>
<text x="381.35" y="1641.23" font-size="21" text-anchor="end" >0.6</text>
<text x="381.35" y="1575.33" font-size="21" text-anchor="end" >0.8</text>
<text x="381.35" y="1509.43" font-size="21" text-anchor="end" >1.0</text>
<g>
<rect x="718.5" y="1591.23" width="56.02" height="133.18" fill="#b4d8eb" stroke="#050505" stroke-width="1.45"/>
<path d="M746.51 1522.46V1591.23M746.51 1724.4V1740.84M732.92 1522.46H760.76M732.92 1740.84H760.76M718.5 1643.22H774.52" stroke="#050505" stroke-width="1.45" fill="none"/>
<rect x="803.37" y="1583.85" width="55.35" height="134.18" fill="#eeebbd" stroke="#050505" stroke-width="1.45"/>
<path d="M831.04 1564.73V1583.85M831.04 1718.03V1765.67M817.12 1564.73H845.3M817.12 1765.67H845.3M803.37 1682.14H858.72" stroke="#050505" stroke-width="1.45" fill="none"/>
<rect x="887.57" y="1634.17" width="56.02" height="93.93" fill="#ebb0b6" stroke="#050505" stroke-width="1.45"/>
<path d="M915.58 1571.1V1634.17M915.58 1728.09V1755.6M901.66 1571.1H929.5M901.66 1755.6H929.5M887.57 1654.96H943.59" stroke="#050505" stroke-width="1.45" fill="none"/>
</g>
<g fill="#000">
<circle cx="746.68" cy="1522.46" r="4.5"/>
<circle cx="746.68" cy="1590.22" r="4.5"/>
<circle cx="746.68" cy="1601.29" r="4.5"/>
<circle cx="746.68" cy="1643.22" r="4.5"/>
<circle cx="746.68" cy="1691.53" r="4.5"/>
<circle cx="746.68" cy="1724.4" r="4.5"/>
<circle cx="746.68" cy="1740.84" r="4.5"/>
<rect x="826.38" y="1560.23" width="9.0" height="9.0"/>
<rect x="817.32" y="1576.66" width="9.0" height="9.0"/>
<rect x="835.43" y="1584.38" width="9.0" height="9.0"/>
<rect x="817.32" y="1676.97" width="9.0" height="9.0"/>
<rect x="835.43" y="1679.31" width="9.0" height="9.0"/>
<rect x="817.32" y="1711.18" width="9.0" height="9.0"/>
<rect x="835.43" y="1714.54" width="9.0" height="9.0"/>
<rect x="826.38" y="1761.17" width="9.0" height="9.0"/>
<path d="M915.41 1567.47L920.11 1576.07L910.71 1576.07Z"/>
<path d="M915.41 1623.49L920.11 1632.09L910.71 1632.09Z"/>
<path d="M915.41 1631.88L920.11 1640.48L910.71 1640.48Z"/>
<path d="M906.35 1641.94L911.05 1650.54L901.65 1650.54Z"/>
<path d="M924.47 1645.97L929.17 1654.57L919.77 1654.57Z"/>
<path d="M915.41 1656.37L920.11 1664.97L910.71 1664.97Z"/>
<path d="M915.41 1675.49L920.11 1684.09L910.71 1684.09Z"/>
<path d="M915.41 1721.45L920.11 1730.05L910.71 1730.05Z"/>
<path d="M915.41 1734.19L920.11 1742.79L910.71 1742.79Z"/>
<path d="M915.41 1751.64L920.11 1760.24L910.71 1760.24Z"/>
</g>
<path d="M704.49 1502.17V1831.93M703.89 1831.93H958.01M700.49 1831.93H704.49M700.49 1749.61H704.49M700.49 1667.3H704.49M700.49 1584.98H704.49M700.49 1502.67H704.49M746.68 1831.93V1835.43M830.88 1831.93V1835.43M915.41 1831.93V1835.43" stroke="#050505" stroke-width="1.2" fill="none"/>
<text x="692.89" y="1838.93" font-size="21" text-anchor="end" >0.0</text>
<text x="692.89" y="1756.61" font-size="21" text-anchor="end" >0.2</text>
<text x="692.89" y="1674.3" font-size="21" text-anchor="end" >0.4</text>
<text x="692.89" y="1591.98" font-size="21" text-anchor="end" >0.6</text>
<text x="692.89" y="1509.67" font-size="21" text-anchor="end" >0.8</text>
<g>
<rect x="94.3" y="2253.1" width="52.34" height="30.32" fill="#b4d8eb" stroke="#050505" stroke-width="1.45"/>
<path d="M120.47 2197.24V2253.1M120.47 2283.43V2313.96M106.97 2197.24H133.76M106.97 2313.96H133.76M94.3 2267.44H146.64" stroke="#050505" stroke-width="1.45" fill="none"/>
<rect x="173.84" y="2226.52" width="52.54" height="45.9" fill="#f6d5bb" stroke="#050505" stroke-width="1.45"/>
<path d="M200.11 2200.15V2226.52M200.11 2272.42V2296.3M186.3 2200.15H213.3M186.3 2296.3H213.3M173.84 2263.07H226.39" stroke="#050505" stroke-width="1.45" fill="none"/>
<rect x="253.36" y="2233.08" width="52.52" height="58.13" fill="#eeebbd" stroke="#050505" stroke-width="1.45"/>
<path d="M279.63 2215.33V2233.08M279.63 2291.21V2310.84M266.07 2215.33H293.55M266.07 2310.84H293.55M253.36 2259.44H305.89" stroke="#050505" stroke-width="1.45" fill="none"/>
<rect x="332.62" y="2265.98" width="52.9" height="47.66" fill="#ebb0b6" stroke="#050505" stroke-width="1.45"/>
<path d="M359.07 2234.77V2265.98M359.07 2313.64V2316.45M345.89 2234.77H372.99M345.89 2316.45H372.99M332.62 2292.9H385.51" stroke="#050505" stroke-width="1.45" fill="none"/>
</g>
<g fill="#000">
<circle cx="120.47" cy="2197.24" r="4.5"/>
<circle cx="120.47" cy="2234.41" r="4.5"/>
<circle cx="102.61" cy="2258.5" r="4.5"/>
<circle cx="120.47" cy="2262.66" r="4.5"/>
<circle cx="102.61" cy="2267.85" r="4.5"/>
<circle cx="137.91" cy="2266.4" r="4.5"/>
<circle cx="111.54" cy="2281.14" r="4.5"/>
<circle cx="129.19" cy="2280.52" r="4.5"/>
<circle cx="120.47" cy="2291.32" r="4.5"/>
<circle cx="120.47" cy="2313.96" r="4.5"/>
<rect x="202.57" y="2195.65" width="9.0" height="9.0"/>
<rect x="188.03" y="2202.5" width="9.0" height="9.0"/>
<rect x="195.3" y="2213.51" width="9.0" height="9.0"/>
<rect x="195.3" y="2229.5" width="9.0" height="9.0"/>
<rect x="188.03" y="2243.41" width="9.0" height="9.0"/>
<rect x="173.29" y="2251.93" width="9.0" height="9.0"/>
<rect x="202.57" y="2258.57" width="9.0" height="9.0"/>
<rect x="217.73" y="2260.65" width="9.0" height="9.0"/>
<rect x="202.57" y="2266.88" width="9.0" height="9.0"/>
<rect x="173.29" y="2265.22" width="9.0" height="9.0"/>
<rect x="188.03" y="2268.96" width="9.0" height="9.0"/>
<rect x="188.03" y="2291.8" width="9.0" height="9.0"/>
<rect x="202.57" y="2288.27" width="9.0" height="9.0"/>
<path d="M279.53 2211.21L284.23 2219.81L274.83 2219.81Z"/>
<path d="M270.75 2234.2L275.45 2242.8L266.05 2242.8Z"/>
<path d="M288.32 2242.62L293.02 2251.22L283.62 2251.22Z"/>
<path d="M279.53 2267.85L284.23 2276.45L274.83 2276.45Z"/>
<path d="M279.53 2281.31L284.23 2289.91L274.83 2289.91Z"/>
<path d="M279.53 2306.91L284.23 2315.51L274.83 2315.51Z"/>
<path d="M358.97 2238.13L363.67 2229.53L354.27 2229.53Z"/>
<path d="M366.45 2265.05L371.15 2256.45L361.75 2256.45Z"/>
<path d="M351.5 2274.02L356.2 2265.42L346.8 2265.42Z"/>
<path d="M366.45 2275.51L371.15 2266.91L361.75 2266.91Z"/>
<path d="M358.97 2296.45L363.67 2287.85L354.27 2287.85Z"/>
<path d="M351.5 2312.9L356.2 2304.3L346.8 2304.3Z"/>
<path d="M366.45 2317.94L371.15 2309.34L361.75 2309.34Z"/>
<path d="M381.4 2317.01L386.1 2308.41L376.7 2308.41Z"/>
<path d="M336.92 2320.37L341.62 2311.77L332.22 2311.77Z"/>
</g>
<path d="M80.64 2066.25V2395.5M80.04 2395.5H399.58M76.64 2395.5H80.64M76.64 2285.92H80.64M76.64 2176.33H80.64M76.64 2066.75H80.64M120.46 2395.5V2399M200.21 2395.5V2399M279.54 2395.5V2399M359.29 2395.5V2399" stroke="#050505" stroke-width="1.2" fill="none"/>
<text x="69.04" y="2402.5" font-size="21" text-anchor="end" >0.0</text>
<text x="69.04" y="2292.92" font-size="21" text-anchor="end" >0.2</text>
<text x="69.04" y="2183.33" font-size="21" text-anchor="end" >0.4</text>
<text x="69.04" y="2073.75" font-size="21" text-anchor="end" >0.6</text>
<g>
<rect x="481" y="2176.07" width="72.9" height="80.69" fill="#f6d5bb" stroke="#050505" stroke-width="1.45"/>
<path d="M517.45 2104.74V2176.07M517.45 2256.76V2343.99M499.07 2104.74H536.45M499.07 2343.99H536.45M481 2226.54H553.89" stroke="#050505" stroke-width="1.45" fill="none"/>
<rect x="591.28" y="2217.82" width="73.21" height="61.68" fill="#ebb0b6" stroke="#050505" stroke-width="1.45"/>
<path d="M627.88 2142.12V2217.82M627.88 2279.5V2314.39M609.35 2142.12H646.42M609.35 2314.39H646.42M591.28 2249.6H664.49" stroke="#050505" stroke-width="1.45" fill="none"/>
</g>
<g fill="#000">
<rect x="513.26" y="2100.24" width="9.0" height="9.0"/>
<rect x="513.26" y="2124.53" width="9.0" height="9.0"/>
<rect x="513.26" y="2137" width="9.0" height="9.0"/>
<rect x="513.26" y="2151.01" width="9.0" height="9.0"/>
<rect x="539.43" y="2162.54" width="9.0" height="9.0"/>
<rect x="504.53" y="2170.95" width="9.0" height="9.0"/>
<rect x="521.98" y="2170.64" width="9.0" height="9.0"/>
<rect x="513.26" y="2180.3" width="9.0" height="9.0"/>
<rect x="521.98" y="2192.14" width="9.0" height="9.0"/>
<rect x="504.53" y="2199.3" width="9.0" height="9.0"/>
<rect x="539.43" y="2195.25" width="9.0" height="9.0"/>
<rect x="486.78" y="2214.88" width="9.0" height="9.0"/>
<rect x="504.53" y="2222.04" width="9.0" height="9.0"/>
<rect x="539.43" y="2220.48" width="9.0" height="9.0"/>
<rect x="486.78" y="2229.21" width="9.0" height="9.0"/>
<rect x="521.98" y="2231.39" width="9.0" height="9.0"/>
<rect x="539.43" y="2230.45" width="9.0" height="9.0"/>
<rect x="504.53" y="2239.8" width="9.0" height="9.0"/>
<rect x="486.78" y="2248.83" width="9.0" height="9.0"/>
<rect x="504.53" y="2251.64" width="9.0" height="9.0"/>
<rect x="539.43" y="2247.28" width="9.0" height="9.0"/>
<rect x="521.98" y="2254.75" width="9.0" height="9.0"/>
<rect x="504.53" y="2263.48" width="9.0" height="9.0"/>
<rect x="513.26" y="2272.82" width="9.0" height="9.0"/>
<rect x="504.53" y="2304.6" width="9.0" height="9.0"/>
<rect x="521.98" y="2310.83" width="9.0" height="9.0"/>
<rect x="513.26" y="2339.49" width="9.0" height="9.0"/>
<path d="M619 2147.98L623.7 2139.38L614.3 2139.38Z"/>
<path d="M636.76 2146.11L641.46 2137.51L632.06 2137.51Z"/>
<path d="M627.73 2205.61L632.43 2197.01L623.03 2197.01Z"/>
<path d="M610.28 2239.25L614.98 2230.65L605.58 2230.65Z"/>
<path d="M627.73 2240.19L632.43 2231.59L623.03 2231.59Z"/>
<path d="M645.48 2237.07L650.18 2228.47L640.78 2228.47Z"/>
<path d="M619 2253.58L623.7 2244.98L614.3 2244.98Z"/>
<path d="M636.76 2253.9L641.46 2245.3L632.06 2245.3Z"/>
<path d="M619 2265.73L623.7 2257.13L614.3 2257.13Z"/>
<path d="M636.76 2269.47L641.46 2260.87L632.06 2260.87Z"/>
<path d="M627.73 2297.82L632.43 2289.22L623.03 2289.22Z"/>
<path d="M619 2317.76L623.7 2309.16L614.3 2309.16Z"/>
<path d="M636.76 2313.4L641.46 2304.8L632.06 2304.8Z"/>
</g>
<path d="M462.86 2064.67V2395.5M462.26 2395.5H682.24M458.86 2395.5H462.86M458.86 2329.43H462.86M458.86 2263.37H462.86M458.86 2197.3H462.86M458.86 2131.24H462.86M458.86 2065.17H462.86M517.76 2395.5V2399M627.73 2395.5V2399" stroke="#050505" stroke-width="1.2" fill="none"/>
<text x="451.26" y="2402.5" font-size="21" text-anchor="end" >0.0</text>
<text x="451.26" y="2336.43" font-size="21" text-anchor="end" >0.2</text>
<text x="451.26" y="2270.37" font-size="21" text-anchor="end" >0.4</text>
<text x="451.26" y="2204.3" font-size="21" text-anchor="end" >0.6</text>
<text x="451.26" y="2138.24" font-size="21" text-anchor="end" >0.8</text>
<text x="451.26" y="2072.17" font-size="21" text-anchor="end" >1.0</text>
<g>
<rect x="761.69" y="2152.53" width="72.58" height="126.07" fill="#b4d8eb" stroke="#050505" stroke-width="1.45"/>
<path d="M797.98 2085.53V2152.53M797.98 2278.6V2328.85M779.32 2085.53H816.64M779.32 2328.85H816.64M761.69 2226.58H834.28" stroke="#050505" stroke-width="1.45" fill="none"/>
<rect x="871.6" y="2183.97" width="72.88" height="108.73" fill="#ebb0b6" stroke="#050505" stroke-width="1.45"/>
<path d="M908.03 2116.39V2183.97M908.03 2292.7V2319.15M889.23 2116.39H926.55M889.23 2319.15H926.55M871.6 2231.58H944.47" stroke="#050505" stroke-width="1.45" fill="none"/>
</g>
<g fill="#000">
<circle cx="797.84" cy="2085.53" r="4.5"/>
<circle cx="797.84" cy="2127.85" r="4.5"/>
<circle cx="780.21" cy="2136.37" r="4.5"/>
<circle cx="797.84" cy="2144.6" r="4.5"/>
<circle cx="780.21" cy="2151.65" r="4.5"/>
<circle cx="797.84" cy="2153.71" r="4.5"/>
<circle cx="815.47" cy="2152.24" r="4.5"/>
<circle cx="797.84" cy="2164.28" r="4.5"/>
<circle cx="797.84" cy="2178.39" r="4.5"/>
<circle cx="797.84" cy="2194.26" r="4.5"/>
<circle cx="797.84" cy="2206.31" r="4.5"/>
<circle cx="797.84" cy="2226.58" r="4.5"/>
<circle cx="780.21" cy="2246.56" r="4.5"/>
<circle cx="797.84" cy="2244.8" r="4.5"/>
<circle cx="815.47" cy="2242.45" r="4.5"/>
<circle cx="797.84" cy="2254.79" r="4.5"/>
<circle cx="797.84" cy="2267.43" r="4.5"/>
<circle cx="780.21" cy="2278.6" r="4.5"/>
<circle cx="815.47" cy="2282.42" r="4.5"/>
<circle cx="797.84" cy="2288" r="4.5"/>
<circle cx="797.84" cy="2304.16" r="4.5"/>
<circle cx="815.47" cy="2302.1" r="4.5"/>
<circle cx="797.84" cy="2328.85" r="4.5"/>
<path d="M907.74 2120.39L912.44 2111.79L903.04 2111.79Z"/>
<path d="M907.74 2161.24L912.44 2152.64L903.04 2152.64Z"/>
<path d="M907.74 2196.21L912.44 2187.61L903.04 2187.61Z"/>
<path d="M907.74 2210.02L912.44 2201.42L903.04 2201.42Z"/>
<path d="M907.74 2223.83L912.44 2215.23L903.04 2215.23Z"/>
<path d="M907.74 2247.63L912.44 2239.03L903.04 2239.03Z"/>
<path d="M907.74 2278.19L912.44 2269.59L903.04 2269.59Z"/>
<path d="M907.74 2293.18L912.44 2284.58L903.04 2284.58Z"/>
<path d="M907.74 2304.05L912.44 2295.45L903.04 2295.45Z"/>
<path d="M907.74 2322.57L912.44 2313.97L903.04 2313.97Z"/>
</g>
<path d="M743.02 2065.05V2395.5M742.42 2395.5H962.99M739.02 2395.5H743.02M739.02 2313.01H743.02M739.02 2230.52H743.02M739.02 2148.04H743.02M739.02 2065.55H743.02M797.84 2395.5V2399M907.74 2395.5V2399" stroke="#050505" stroke-width="1.2" fill="none"/>
<text x="731.42" y="2402.5" font-size="21" text-anchor="end" >0.0</text>
<text x="731.42" y="2320.01" font-size="21" text-anchor="end" >0.2</text>
<text x="731.42" y="2237.52" font-size="21" text-anchor="end" >0.4</text>
<text x="731.42" y="2155.04" font-size="21" text-anchor="end" >0.6</text>
<text x="731.42" y="2072.55" font-size="21" text-anchor="end" >0.8</text>
<text x="0.45" y="22.4" font-size="41" text-anchor="start" font-weight="bold" >a</text>
<text x="-1.9" y="1444.9" font-size="41" text-anchor="start" font-weight="bold" >b</text>
<text x="-0.8" y="2002.2" font-size="42" text-anchor="start" font-weight="bold" >c</text>
<text x="63" y="31.3" font-size="25" text-anchor="start" font-weight="bold" >Age</text>
<text x="63" y="499.6" font-size="25" text-anchor="start" font-weight="bold" >Sex</text>
<text x="63" y="957.4" font-size="25" text-anchor="start" font-weight="bold" >Smoking status</text>
<text x="63" y="1452" font-size="25" text-anchor="start" font-weight="bold" >Sinus diseases</text>
<text x="63.5" y="2012.7" font-size="25" text-anchor="start" font-weight="bold" >Excision location</text>
<text x="189.9" y="66.5" font-size="21" text-anchor="middle" >Stanford</text>
<text x="471.4" y="66.5" font-size="21" text-anchor="middle" >NTUH</text>
<text x="755.1" y="66.5" font-size="21" text-anchor="middle" >CMUH</text>
<text x="187.2" y="530.7" font-size="21" text-anchor="middle" >Stanford</text>
<text x="470" y="530.5" font-size="21" text-anchor="middle" >NTUH</text>
<text x="754.2" y="530.5" font-size="21" text-anchor="middle" >CMUH</text>
<text x="187.7" y="993.9" font-size="21" text-anchor="middle" >Stanford</text>
<text x="486" y="994.9" font-size="21" text-anchor="middle" >NTUH</text>
<text x="800.5" y="994.9" font-size="21" text-anchor="middle" >CMUH</text>
<text x="203.8" y="1484" font-size="21" text-anchor="middle" >Stanford</text>
<text x="519.2" y="1483.2" font-size="21" text-anchor="middle" >NTUH</text>
<text x="831.2" y="1483.5" font-size="21" text-anchor="middle" >CMUH</text>
<text x="239.8" y="2047" font-size="21" text-anchor="middle" >Stanford</text>
<text x="572.6" y="2045.5" font-size="21" text-anchor="middle" >NTUH</text>
<text x="853" y="2045.9" font-size="21" text-anchor="middle" >CMUH</text>
<text x="134.43" y="448.6" font-size="21" text-anchor="middle" >&lt; 65</text>
<text x="247.93" y="447.2" font-size="21" text-anchor="middle" >≥65</text>
<text x="416.01" y="448.6" font-size="21" text-anchor="middle" >&lt;65</text>
<text x="529.48" y="447.2" font-size="21" text-anchor="middle" >≥65</text>
<text x="700.09" y="448.6" font-size="21" text-anchor="middle" >&lt;65</text>
<text x="813.25" y="447.2" font-size="21" text-anchor="middle" >≥65</text>
<text x="133.4" y="907.8" font-size="21" text-anchor="middle" >Male</text>
<text x="243.06" y="907.8" font-size="21" text-anchor="middle" >Female</text>
<text x="416.26" y="907.8" font-size="21" text-anchor="middle" >Male</text>
<text x="525.92" y="907.8" font-size="21" text-anchor="middle" >Female</text>
<text x="700.35" y="907.8" font-size="21" text-anchor="middle" >Male</text>
<text x="810.31" y="907.8" font-size="21" text-anchor="middle" >Female</text>
<text x="133.71" y="1370.9" font-size="21" text-anchor="middle" >No</text>
<text x="243.37" y="1370.9" font-size="21" text-anchor="middle" >Former</text>
<text x="402.36" y="1370.9" font-size="21" text-anchor="middle" >No</text>
<text x="486.44" y="1370.9" font-size="21" text-anchor="middle" >Former</text>
<text x="570.52" y="1370.9" font-size="21" text-anchor="middle" >Current</text>
<text x="717.38" y="1370.9" font-size="21" text-anchor="middle" >No</text>
<text x="801.46" y="1370.9" font-size="21" text-anchor="middle" >Former</text>
<text x="885.54" y="1370.9" font-size="21" text-anchor="middle" >Current</text>
<text transform="translate(126.86 1844.76) rotate(-90)" font-size="21" text-anchor="end">Control</text>
<text transform="translate(210.54 1844.76) rotate(-90)" font-size="21" text-anchor="end">CRSsNP</text>
<text transform="translate(294.58 1844.76) rotate(-90)" font-size="21" text-anchor="end">CRSwNP</text>
<text transform="translate(441.32 1844.63) rotate(-90)" font-size="21" text-anchor="end">Control</text>
<text transform="translate(525.29 1844.63) rotate(-90)" font-size="21" text-anchor="end">CRSsNP</text>
<text transform="translate(609.59 1844.63) rotate(-90)" font-size="21" text-anchor="end">CRSwNP</text>
<text transform="translate(753.48 1844.63) rotate(-90)" font-size="21" text-anchor="end">Control</text>
<text transform="translate(837.68 1844.63) rotate(-90)" font-size="21" text-anchor="end">CRSsNP</text>
<text transform="translate(922.21 1844.63) rotate(-90)" font-size="21" text-anchor="end">CRSwNP</text>
<text x="121.46" y="2423.8" font-size="21" text-anchor="middle" >UNC</text>
<text x="201.21" y="2423.8" font-size="21" text-anchor="middle" >Turb</text>
<text x="280.54" y="2423.8" font-size="21" text-anchor="middle" >Eth</text>
<text x="360.29" y="2423.8" font-size="21" text-anchor="middle" >NP</text>
<text x="518.76" y="2423.8" font-size="21" text-anchor="middle" >Turb</text>
<text x="628.73" y="2423.8" font-size="21" text-anchor="middle" >NP</text>
<text x="798.84" y="2423.8" font-size="21" text-anchor="middle" >UNC</text>
<text x="908.74" y="2423.8" font-size="21" text-anchor="middle" >NP</text>
<text transform="translate(19.8 253.4) rotate(-90)" font-size="21.3" text-anchor="middle">Normalized ACE2</text>
<text transform="translate(19.8 713) rotate(-90)" font-size="21.3" text-anchor="middle">Normalized ACE2</text>
<text transform="translate(19.8 1183.5) rotate(-90)" font-size="21.3" text-anchor="middle">Normalized ACE2</text>
<text transform="translate(19.8 1667.5) rotate(-90)" font-size="21.3" text-anchor="middle">Normalized ACE2</text>
<text transform="translate(19.8 2231) rotate(-90)" font-size="21.3" text-anchor="middle">Normalized ACE2</text>
</svg></body></html>
